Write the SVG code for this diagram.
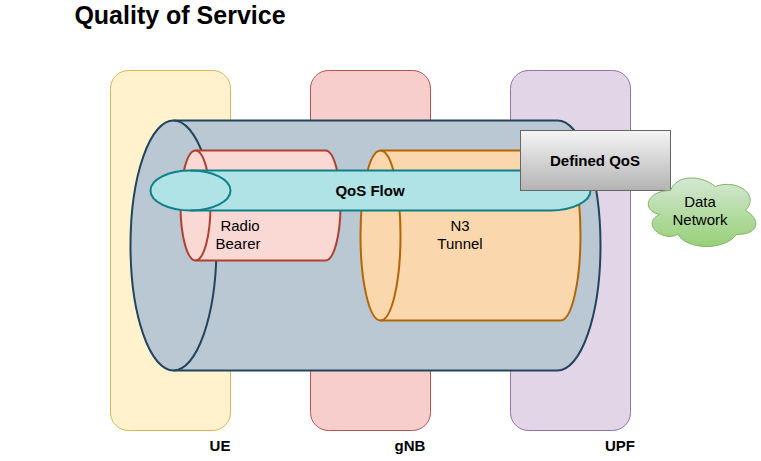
<svg xmlns="http://www.w3.org/2000/svg" width="761" height="461" viewBox="0 0 761 461">
<style>
text{font-family:"Liberation Sans",Arial,sans-serif;font-size:15px;fill:#000;text-anchor:middle}
.b{font-weight:bold}
.zone{stroke-width:1}
.cyl{stroke-width:2}
.big{fill:#bac8d3;stroke:#23445d}
.radio{fill:#fad9d5;stroke:#ae4132}
.n3{fill:#fad7ac;stroke:#b46504}
.qos{fill:#b0e3e6;stroke:#0e8088}
.front{fill:none}
</style>
<defs>
<linearGradient id="gBox" x1="0" y1="0" x2="0" y2="1"><stop offset="0" stop-color="#f5f5f5"/><stop offset="1" stop-color="#b3b3b3"/></linearGradient>
<linearGradient id="gCloud" x1="0" y1="0" x2="0" y2="1"><stop offset="0" stop-color="#d5e8d4"/><stop offset="1" stop-color="#97d077"/></linearGradient>
</defs>
<g id="title"><text class="b" x="180" y="24" style="font-size:25px">Quality of Service</text></g>
<g id="ue-zone"><rect class="zone" x="110.500" y="70.500" width="120" height="360" rx="18" fill="#fff2cc" stroke="#d6b656"/></g>
<g id="gnb-zone"><rect class="zone" x="310.500" y="70.500" width="120" height="360" rx="18" fill="#f8cecc" stroke="#b85450"/></g>
<g id="upf-zone"><rect class="zone" x="510.500" y="70.500" width="120" height="360" rx="18" fill="#e1d5e7" stroke="#9673a6"/></g>
<g id="qos-tunnel" class="cyl">
<path class="big" d="M173.500 120.500A43 125 0 0 0 173.500 370.500L557.500 370.500A43 125 0 0 0 557.500 120.500Z"/>
<path class="big front" d="M173.500 120.500A43 125 0 0 1 173.500 370.500"/>
</g>
<g id="radio-bearer" class="cyl">
<path class="radio" d="M195.500 150.500A15 55 0 0 0 195.500 260.500L325.500 260.500A15 55 0 0 0 325.500 150.500Z"/>
<path class="radio front" d="M195.500 150.500A15 55 0 0 1 195.500 260.500"/>
<text x="240" y="231">Radio</text><text x="238" y="249">Bearer</text>
</g>
<g id="n3-tunnel" class="cyl">
<path class="n3" d="M380.500 150.500A20 85 0 0 0 380.500 320.500L560.500 320.500A20 85 0 0 0 560.500 150.500Z"/>
<path class="n3 front" d="M380.500 150.500A20 85 0 0 1 380.500 320.500"/>
<text x="460" y="231">N3</text><text x="460" y="249">Tunnel</text>
</g>
<g id="qos-flow" class="cyl">
<path class="qos" d="M190.500 170.500A40 20 0 0 0 190.500 210.500L550.500 210.500A40 20 0 0 0 550.500 170.500Z"/>
<path class="qos front" d="M190.500 170.500A40 20 0 0 1 190.500 210.500"/>
<text class="b" x="370" y="196">QoS Flow</text>
</g>
<g id="defined-qos"><rect x="520.500" y="130.500" width="150" height="60" fill="url(#gBox)" stroke="#666666"/><text class="b" x="595" y="165.500">Defined QoS</text></g>
<g id="data-network"><path d="M670.500 190.500C646.500 190.500 640.500 210.500 659.700 214.500C640.500 223.300 662.100 242.500 677.700 234.500C688.500 250.500 724.500 250.500 736.500 234.500C760.500 234.500 760.500 218.500 745.500 210.500C760.500 194.500 736.500 178.500 715.500 186.500C700.500 174.500 676.500 174.500 670.500 190.500Z" fill="url(#gCloud)" stroke="#82b366"/><text x="700" y="207">Data</text><text x="700" y="225">Network</text></g>
<g id="ue-label"><text class="b" x="220" y="451">UE</text></g>
<g id="gnb-label"><text class="b" x="410" y="451">gNB</text></g>
<g id="upf-label"><text class="b" x="620" y="451">UPF</text></g>
</svg>
